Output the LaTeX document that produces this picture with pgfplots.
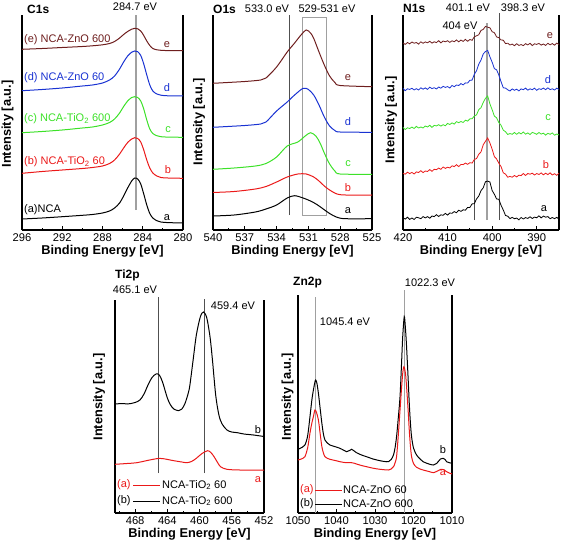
\documentclass[border=0pt]{standalone}
\usepackage{fontspec}
\setmainfont{Liberation Sans}
\usepackage{pgfplots}
\usepackage{pgfplotstable}
\pgfplotsset{compat=1.18}
\definecolor{cbrown}{RGB}{110,30,30}
\definecolor{cblue}{RGB}{25,50,210}
\definecolor{cgreen}{RGB}{60,225,40}
\definecolor{cred}{RGB}{235,25,25}
\definecolor{lgray}{RGB}{160,160,160}
\definecolor{dgray}{RGB}{80,80,80}
\newcommand\ann{\fontsize{11}{12}\selectfont}
\newcommand\ttl{\bfseries\fontsize{12.8}{14}\selectfont}
\newcommand\hd{\bfseries\fontsize{12}{14}\selectfont}
\pgfplotsset{
  xps/.style={
    scale only axis, anchor=south west, clip=false,
    x dir=reverse,
    axis x line*=bottom, axis y line*=box,
    ytick=\empty,
    axis line style={line width=1.5pt,-},
    every tick/.style={black, line width=0.9pt},
    major tick length=4pt, minor tick length=2.5pt,
    minor x tick num=1,
    tick align=inside,
    tick label style={font=\fontsize{11.2}{12}\selectfont},
    xlabel={Binding Energy [eV]},
    xlabel style={font=\ttl, yshift=3pt},
    every axis plot/.append style={line width=1pt, no markers},
    /pgf/number format/assume math mode=true,
    /pgf/number format/1000 sep={},
  }
}
\pgfplotstableread{
x a b c d e
420 12.3 56.7 102.5 141.6 187.0
419.5 10.9 55.8 100.5 139.3 185.6
419 12.8 57.8 102.2 141.2 187.5
418.5 10.6 56.4 101.5 140.6 186.2
418 12.0 57.6 102.9 141.7 188.0
417.5 10.5 56.0 101.5 140.1 186.8
417 12.8 58.1 103.6 141.3 187.5
416.5 12.2 57.5 102.0 140.0 185.9
416 11.3 59.3 103.0 142.2 188.2
415.5 13.4 57.4 102.0 140.8 186.7
415 12.1 59.0 104.0 142.1 188.1
414.5 13.4 58.5 103.0 140.6 187.2
414 11.8 60.4 104.7 142.8 188.7
413.5 14.0 58.7 102.6 141.4 186.9
413 13.4 60.7 104.6 142.3 188.2
412.5 15.3 60.3 104.1 141.0 187.4
412 13.5 61.9 105.3 143.0 189.3
411.5 15.2 60.7 103.9 141.8 187.1
411 14.7 63.0 105.3 143.7 189.0
410.5 16.6 61.6 104.2 142.6 188.2
410 14.9 62.8 106.6 143.4 189.3
409.5 17.0 62.0 105.5 142.0 187.6
409 16.7 64.2 107.1 144.5 189.2
408.5 18.4 63.4 105.9 143.3 188.3
408 17.3 65.3 108.4 145.0 190.0
407.5 19.8 63.4 107.3 144.5 188.2
407 18.6 65.6 108.5 146.4 189.9
406.5 20.2 65.4 107.5 145.1 188.6
406 19.8 66.9 109.8 147.1 190.6
405.5 22.6 65.7 108.9 147.0 188.7
405 22.6 67.3 111.1 149.7 190.5
404.5 26.1 66.9 111.3 149.9 189.7
404 26.3 70.5 113.9 155.7 193.2
403.5 31.1 71.5 115.2 159.3 194.2
403 33.9 75.7 120.4 165.8 195.2
402.5 39.4 78.1 122.3 170.0 199.6
402 42.2 85.2 127.6 176.0 200.6
401.5 48.3 88.7 131.6 178.5 203.6
401 48.9 92.0 134.0 179.6 202.8
400.5 48.0 87.0 126.1 173.2 202.2
400 39.5 80.8 120.3 167.8 198.3
399.5 35.7 73.4 113.9 161.4 197.3
399 31.1 71.1 112.2 160.2 193.1
398.5 30.7 66.8 107.4 155.0 192.4
398 24.7 63.4 104.7 148.3 190.0
397.5 20.0 57.2 99.8 142.2 189.8
397 14.5 55.9 98.3 141.9 186.4
396.5 13.8 52.8 95.5 140.2 186.8
396 11.4 53.6 96.5 139.0 185.0
395.5 12.6 52.8 95.7 141.1 185.9
395 11.3 54.5 97.5 139.7 184.3
394.5 11.9 53.1 95.7 140.8 186.3
394 10.2 54.8 97.4 139.1 184.6
393.5 12.5 54.4 96.1 141.1 185.4
393 11.0 56.5 98.0 140.3 184.4
392.5 12.4 54.5 95.8 141.9 186.3
392 11.6 56.5 97.1 139.8 185.1
391.5 13.2 55.8 95.5 141.2 186.7
391 11.5 56.8 97.6 140.3 184.4
390.5 12.9 55.0 96.8 141.8 186.2
390 12.2 56.5 95.7 139.7 185.6
389.5 14.2 55.5 97.5 141.3 186.6
389 12.1 57.1 95.9 140.6 184.9
388.5 13.9 55.2 96.8 141.9 186.0
388 12.8 56.8 94.9 140.3 184.6
387.5 13.4 55.4 96.7 142.2 186.7
387 11.3 57.2 95.7 140.4 185.2
386.5 12.5 55.0 97.1 141.2 186.4
386 11.3 56.3 94.8 140.0 184.8
385.5 12.7 54.7 96.0 141.8 186.9
385 10.7 56.9 95.0 140.6 185.4
}\nonetab
\begin{document}
\begin{tikzpicture}
\path[use as bounding box] (0,0) rectangle (562pt,547pt);
% ---------------- C1s
\begin{axis}[xps, at={(22pt,317pt)}, width=161pt, height=215pt,
  xmin=280, xmax=296, ymin=0, ymax=215, xtick={280,284,...,296}]
\draw[lgray, line width=1.6pt] (axis cs:284.7,20) -- (axis cs:284.7,215);
\addplot[black, smooth] coordinates {(296,11) (294,12) (292,13.3) (290,14.7) (289,15.5) (288,17) (287.3,19) (286.8,22) (286.3,27) (285.9,34) (285.5,42) (285.1,49) (284.8,52) (284.5,51) (284.2,46) (283.9,36) (283.6,25) (283.3,16.5) (283,12) (282.6,9.3) (282.2,8) (281.5,7.4) (280,7)};
\addplot[cred, smooth] coordinates {(296,56.7) (294,58.5) (292,60) (290,61.5) (289,62.5) (288,64) (287.3,66.5) (286.8,70) (286.3,76) (285.9,82) (285.5,87.5) (285.1,91) (284.8,92.3) (284.5,91.5) (284.2,88) (283.9,80) (283.6,70) (283.3,62) (283,57) (282.6,54) (282.2,52.5) (281.5,52) (280,51.7)};
\addplot[cgreen, smooth] coordinates {(296,97.3) (294,98.5) (292,100) (290,102) (289,103) (288,105) (287.3,107.5) (286.8,111) (286.3,117) (285.9,123.5) (285.5,129) (285.1,132.5) (284.8,133.3) (284.5,132.5) (284.2,129) (283.9,121) (283.6,110) (283.3,101) (283,96.5) (282.6,94.3) (282.2,93.3) (281.5,92.9) (280,92.7)};
\addplot[cblue, smooth] coordinates {(296,139.3) (294,140.5) (292,142) (290,144) (289,145) (288,147) (287.3,150) (286.8,154) (286.3,161) (285.9,168) (285.5,174) (285.1,177.8) (284.8,179) (284.5,178.3) (284.2,174.5) (283.9,166) (283.6,155) (283.3,145) (283,139) (282.6,136) (282.2,134.8) (281.5,134.2) (280,134)};
\addplot[cbrown, smooth] coordinates {(296,180.7) (294,181.5) (292,182.5) (290,183.5) (289,184.2) (288,185.2) (287.3,186.5) (286.8,188.5) (286.3,192) (285.9,195.5) (285.5,198.5) (285.1,200.8) (284.8,201.7) (284.5,201.2) (284.2,199) (283.9,194.5) (283.6,189) (283.3,184.5) (283,181.5) (282.6,180.2) (282.2,179.7) (281.5,179.4) (280,179.3)};
\end{axis}
% ---------------- O1s
\begin{axis}[xps, at={(213pt,317pt)}, width=159pt, height=215pt,
  xmin=525, xmax=540, ymin=0, ymax=215, xtick={525,528,...,540}]
\draw[dgray, line width=0.9pt] (axis cs:532.8,15) -- (axis cs:532.8,215);
\draw[lgray, line width=0.9pt] (axis cs:531.6,15) rectangle (axis cs:529.3,213);
\addplot[black, smooth] coordinates {(540,14) (538,15) (536,18) (535,21) (534,25) (533,32) (532.3,34.3) (531.5,32) (530.8,29) (530.2,25.5) (529.6,21) (529,16.5) (528.3,12.7) (527.5,11.3) (525,11.3)};
\addplot[cred, smooth] coordinates {(540,37.5) (538,38.5) (536,41) (535,43.5) (534,48) (533,53) (532,56) (531.2,56) (530.5,53) (530,49) (529.5,44) (529,40) (528.3,36) (527.5,35) (525,35)};
\addplot[cgreen, smooth] coordinates {(540,60.7) (538,62) (536,64) (535,66.5) (534,73) (533,84) (532,88) (531.3,94) (530.8,97.3) (530.3,94) (529.9,87) (529.5,77) (529,66) (528.5,59) (528,56) (525,55.7)};
\addplot[cblue, smooth] coordinates {(540,102.7) (537,104.5) (535.5,106) (535,108) (534,119) (533,128) (532.3,135) (531.5,141.7) (531,140.5) (530.5,135) (530,125) (529.5,113) (529,104) (528.5,99.5) (528,98) (525,97.7)};
\addplot[cbrown, smooth] coordinates {(540,146.7) (537,148.5) (535.5,150) (535,152) (534,163) (533,178) (532.3,187) (531.7,195) (531.2,200) (530.8,197) (530.5,191.7) (530,178) (529.5,165) (529,154) (528.5,147.5) (528,144.5) (525,143.3)};
\end{axis}
% ---------------- N1s
\begin{axis}[xps, at={(403pt,317pt)}, width=156pt, height=215pt,
  xmin=385, xmax=420, ymin=0, ymax=215, xtick={390,400,410,420}]
\draw[dgray, line width=0.9pt] (axis cs:404,10) -- (axis cs:404,198);
\draw[lgray, line width=1.8pt] (axis cs:401.1,10) -- (axis cs:401.1,207);
\draw[dgray, line width=0.9pt] (axis cs:398.3,10) -- (axis cs:398.3,217);
\addplot[black, line width=0.8pt] table[x=x, y=a] {\nonetab};
\addplot[cred, line width=0.8pt] table[x=x, y=b] {\nonetab};
\addplot[cgreen, line width=0.8pt] table[x=x, y=c] {\nonetab};
\addplot[cblue, line width=0.8pt] table[x=x, y=d] {\nonetab};
\addplot[cbrown, line width=0.8pt] table[x=x, y=e] {\nonetab};
\end{axis}
% ---------------- Ti2p
\begin{axis}[xps, at={(115pt,34pt)}, width=149pt, height=213pt,
  xmin=452, xmax=470.5, ymin=2, ymax=215, xtick={452,456,...,468}, minor xtick={454,458,462,466,470}]
\draw[dgray, line width=0.8pt] (axis cs:465.1,42) -- (axis cs:465.1,218);
\draw[dgray, line width=0.8pt] (axis cs:459.4,42) -- (axis cs:459.4,216);
\addplot[black, smooth] coordinates {(470.5,111) (469.5,111.5) (469,111) (468.5,111.5) (468,112.5) (467.4,115) (466.9,121) (466.4,130) (465.9,137.5) (465.4,141) (465,140) (464.6,133) (464,117) (463.6,110) (463.2,106) (462.6,104.3) (462.2,106) (461.8,111.7) (461.4,122) (461.2,130) (460.8,155) (460.4,180) (459.9,198.3) (459.5,203) (459.1,197) (458.7,178) (458.4,155) (458,120) (457.6,100) (457.2,91) (456.6,85) (456,83) (455.3,82.3) (454.5,81) (453.3,80) (452,78.5)};
\addplot[cred, smooth] coordinates {(470.5,50.7) (469,51.5) (467.8,52.3) (466.2,55) (465,56.7) (464.4,56.2) (463.2,54.3) (462.2,53) (461.6,52.3) (461,53.5) (460.4,56.7) (459.7,61.5) (459,64.3) (458.6,62.5) (458.2,58.3) (457.8,53) (457.4,48.3) (456.6,45.7) (455,45) (452,45)};
\end{axis}
% ---------------- Zn2p
\begin{axis}[xps, at={(298pt,34pt)}, width=154pt, height=218pt,
  xmin=1010, xmax=1050, ymin=5, ymax=223, xtick={1010,1020,...,1050}]
\draw[lgray, line width=1.5pt] (axis cs:1045.4,5) -- (axis cs:1045.4,221);
\draw[lgray, line width=1.5pt] (axis cs:1022.3,5) -- (axis cs:1022.3,228);
\addplot[black, smooth] coordinates {(1050,68.7) (1048.8,71) (1048.2,73) (1047.5,82) (1046.9,101) (1046.4,118) (1046,128) (1045.6,136) (1045.4,138) (1045.1,135) (1044.7,124.7) (1044.2,108) (1043.8,94.7) (1043.4,84) (1043,78) (1042.4,75) (1041.7,73) (1040.5,71.5) (1039.1,69.7) (1038,67.5) (1037.4,66.3) (1036.6,67.5) (1036.1,68.7) (1035.4,67) (1034.8,65.3) (1033.5,63) (1032.2,61.3) (1030.5,59) (1028.7,57.3) (1027.5,56.5) (1026.5,56.3) (1025.8,58.5) (1025.2,63) (1024.8,70) (1024.4,81.3) (1024,98) (1023.5,121.3) (1023.1,155) (1022.8,181.3) (1022.4,201.3) (1022.1,190) (1021.8,171.3) (1021.4,140) (1021.1,114.7) (1020.8,95) (1020.5,81.3) (1020,70) (1019.2,63) (1018.3,59) (1017.5,56.3) (1016,54) (1014.8,53) (1014,54.5) (1013.6,56.3) (1013,59) (1012.3,59.7) (1011.8,58.5) (1011.4,56.3) (1010.7,55.3) (1010,54.7)};
\addplot[cred, smooth] coordinates {(1050,58) (1048.8,59.5) (1048.2,61.3) (1047.5,70) (1046.9,84.7) (1046.4,95) (1046,101.3) (1045.6,108) (1045.2,105.5) (1044.7,98) (1044.2,83) (1043.8,71.3) (1043.4,65) (1043,61.3) (1042.4,59.7) (1041.7,58.7) (1040,57.2) (1039.1,56.3) (1037.5,55.3) (1036.1,55.3) (1035.4,54.8) (1034.8,54) (1033.5,52.5) (1032.2,51.3) (1030.5,49.8) (1028.7,48.7) (1026.5,48) (1025.8,49) (1025.2,51.3) (1024.8,55) (1024.4,61.3) (1024,80) (1023.5,108) (1023.1,130) (1022.8,144.7) (1022.5,151.3) (1022.1,145) (1021.8,131.3) (1021.4,108) (1021.1,88) (1020.8,72) (1020.5,61.3) (1020,54.5) (1019.2,50.7) (1018.3,49) (1017.5,48) (1016,46.5) (1014.8,45.3) (1014,46.5) (1013.6,47.3) (1013,48.5) (1012.6,48.7) (1012,48) (1011.4,46.3) (1010.7,45) (1010,44)};
\end{axis}
% ---------------- texts
\tikzset{every node/.style={inner sep=0pt}}
\node[font=\hd, anchor=west] at (27pt,538pt) {C1s};
\node[font=\hd, anchor=west] at (213pt,538pt) {O1s};
\node[font=\hd, anchor=west] at (403pt,539pt) {N1s};
\node[font=\hd, anchor=west] at (115pt,272pt) {Ti2p};
\node[font=\hd, anchor=west] at (293pt,264pt) {Zn2p};
\node[font=\ann] at (135pt,540pt) {284.7 eV};
\node[font=\ann] at (267pt,538pt) {533.0 eV};
\node[font=\ann] at (327pt,538pt) {529-531 eV};
\node[font=\ann] at (468pt,539pt) {401.1 eV};
\node[font=\ann] at (523pt,539pt) {398.3 eV};
\node[font=\ann] at (460pt,521pt) {404 eV};
\node[font=\ann] at (135pt,257pt) {465.1 eV};
\node[font=\ann] at (233pt,241pt) {459.4 eV};
\node[font=\ann] at (430pt,264pt) {1022.3 eV};
\node[font=\ann] at (345pt,225pt) {1045.4 eV};
% C1s series labels
\node[font=\ann, text=cbrown, anchor=west] at (24pt,507pt) {(e) NCA-ZnO 600};
\node[font=\ann, text=cblue, anchor=west] at (24pt,469pt) {(d) NCA-ZnO 60};
\node[font=\ann, text=cgreen, anchor=west] at (24pt,428pt) {(c) NCA-TiO\textsubscript{2} 600};
\node[font=\ann, text=cred, anchor=west] at (24pt,385pt) {(b) NCA-TiO\textsubscript{2} 60};
\node[font=\ann, text=black, anchor=west] at (24pt,337pt) {(a)NCA};
\node[font=\ann, text=cbrown] at (167pt,502pt) {e};
\node[font=\ann, text=cblue] at (167pt,459pt) {d};
\node[font=\ann, text=cgreen] at (168pt,417pt) {c};
\node[font=\ann, text=cred] at (168pt,377pt) {b};
\node[font=\ann, text=black] at (167pt,329pt) {a};
% O1s letters
\node[font=\ann, text=cbrown] at (348pt,469pt) {e};
\node[font=\ann, text=cblue] at (348pt,425pt) {d};
\node[font=\ann, text=cgreen] at (348pt,383pt) {c};
\node[font=\ann, text=cred] at (348pt,359pt) {b};
\node[font=\ann, text=black] at (348pt,336pt) {a};
% N1s letters
\node[font=\ann, text=cbrown] at (550pt,511pt) {e};
\node[font=\ann, text=cblue] at (548pt,467pt) {d};
\node[font=\ann, text=cgreen] at (548pt,429pt) {c};
\node[font=\ann, text=cred] at (546pt,382pt) {b};
\node[font=\ann, text=black] at (544pt,338pt) {a};
% Ti2p
\node[font=\ann, text=black] at (258pt,117pt) {b};
\node[font=\ann, text=cred] at (258pt,67pt) {a};
\node[font=\ann, text=cred, anchor=west] at (117pt,62pt) {(a)};
\draw[cred, line width=1pt] (133pt,62pt) -- (160pt,62pt);
\node[font=\ann, anchor=west] at (162pt,62pt) {NCA-TiO\textsubscript{2} 60};
\node[font=\ann, anchor=west] at (117pt,46pt) {(b)};
\draw[black, line width=1pt] (133pt,46pt) -- (160pt,46pt);
\node[font=\ann, anchor=west] at (162pt,46pt) {NCA-TiO\textsubscript{2} 600};
% Zn2p
\node[font=\ann, text=black] at (443pt,97pt) {b};
\node[font=\ann, text=cred] at (443pt,74pt) {a};
\node[font=\ann, text=cred, anchor=west] at (300pt,57pt) {(a)};
\draw[cred, line width=1pt] (315pt,57pt) -- (342pt,57pt);
\node[font=\ann, anchor=west] at (343pt,57pt) {NCA-ZnO 60};
\node[font=\ann, anchor=west] at (300pt,43pt) {(b)};
\draw[black, line width=1pt] (315pt,43pt) -- (342pt,43pt);
\node[font=\ann, anchor=west] at (343pt,43pt) {NCA-ZnO 600};
% y labels
\node[font=\ttl, rotate=90] at (7.5pt,423pt) {Intensity [a.u.]};
\node[font=\ttl, rotate=90] at (199pt,425pt) {Intensity [a.u.]};
\node[font=\ttl, rotate=90] at (391pt,427pt) {Intensity [a.u.]};
\node[font=\ttl, rotate=90] at (99pt,150pt) {Intensity [a.u.]};
\node[font=\ttl, rotate=90] at (287.5pt,150pt) {Intensity [a.u.]};
\end{tikzpicture}
\end{document}
